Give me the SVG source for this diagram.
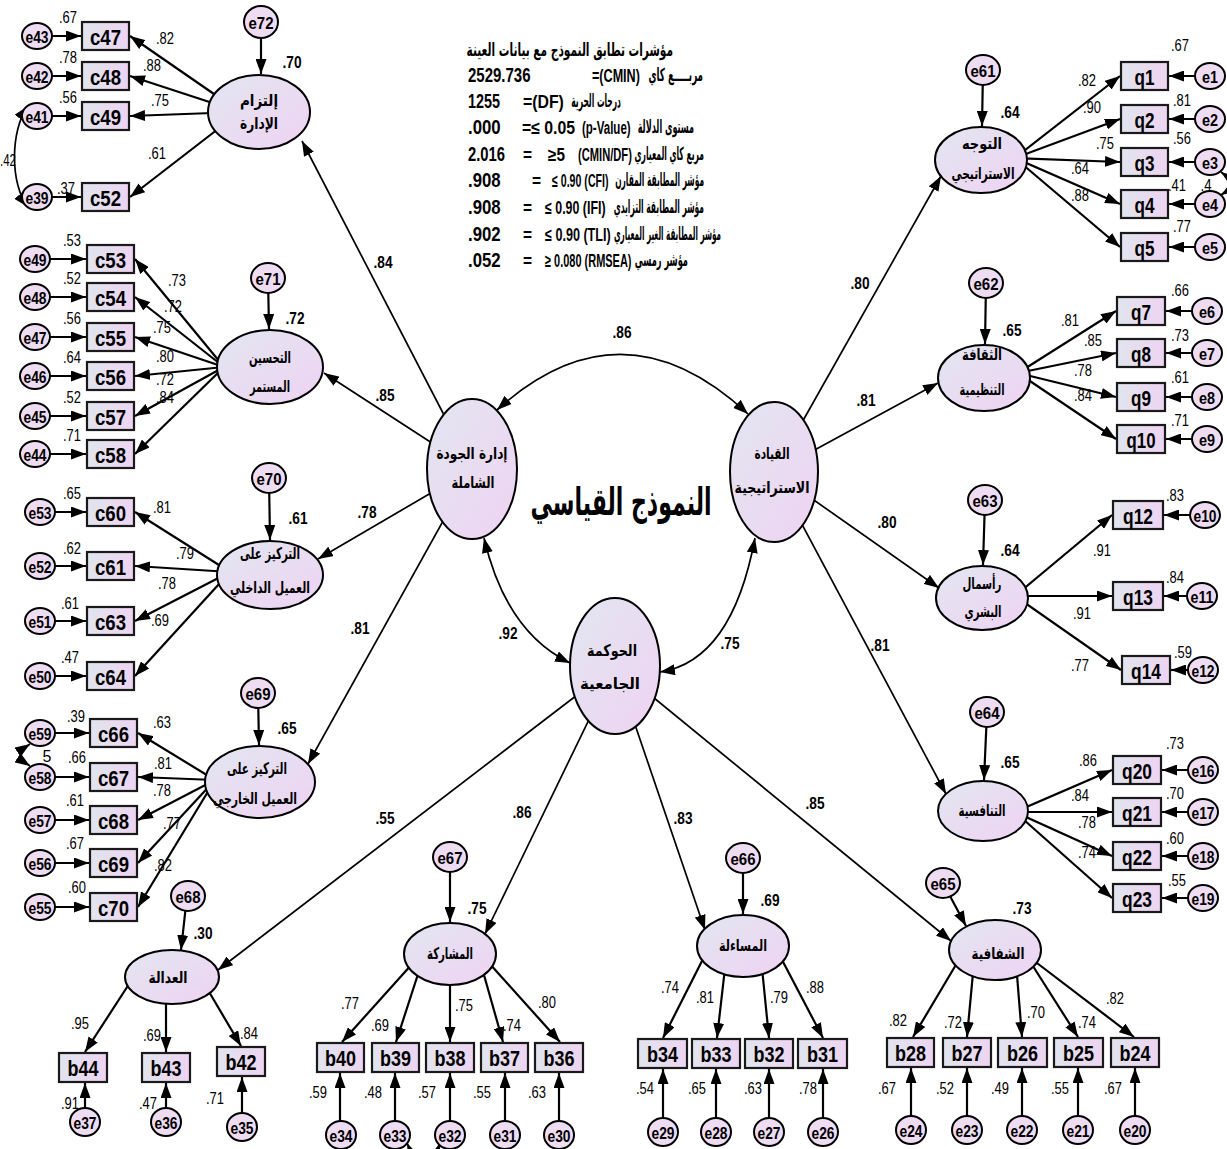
<svg xmlns="http://www.w3.org/2000/svg" width="1227" height="1149" viewBox="0 0 1227 1149">
<defs>
<linearGradient id="gl" x1="0" y1="0" x2="1" y2="1"><stop offset="0" stop-color="#e2e6f0"/><stop offset="1" stop-color="#efd3f3"/></linearGradient>
<linearGradient id="gb" x1="0" y1="0" x2="1" y2="0"><stop offset="0" stop-color="#e0e5ee"/><stop offset="1" stop-color="#eed4f1"/></linearGradient>
<marker id="ah" viewBox="0 0 15 11" refX="15" refY="5.5" markerWidth="15" markerHeight="11" orient="auto-start-reverse" markerUnits="userSpaceOnUse"><path d="M0,0 L15,5.5 L0,11 z" fill="#000"/></marker>
<style>
.lat{fill:url(#gl);stroke:#000;stroke-width:2}
.box{fill:url(#gb);stroke:#1a1a1a;stroke-width:2.2}
.err{fill:#eedcf2;stroke:#000;stroke-width:2}
.ln{fill:none;stroke:#000;stroke-width:2.2;marker-end:url(#ah)}
.sl{fill:none;stroke:#000;stroke-width:1.7;marker-end:url(#ah)}
.cv{fill:none;stroke:#000;stroke-width:1.7;marker-start:url(#ah);marker-end:url(#ah)}
.bt{font-family:"Liberation Sans",Arial,sans-serif;font-weight:bold;font-size:22px;text-anchor:middle;dominant-baseline:central}
.et{font-family:"Liberation Sans",Arial,sans-serif;font-weight:bold;font-size:16px;text-anchor:middle;dominant-baseline:central}
.n{font-family:"Liberation Sans",Arial,sans-serif;font-size:16px;text-anchor:middle}
.nb{font-family:"Liberation Sans",Arial,sans-serif;font-weight:bold;font-size:16px;text-anchor:middle}
.ar{font-family:"DejaVu Sans",sans-serif;font-weight:bold;font-size:16px;text-anchor:middle;dominant-baseline:central}
.fn{font-family:"Liberation Sans",Arial,sans-serif;font-weight:bold;font-size:20px}
.fl{font-family:"Liberation Sans",Arial,sans-serif;font-weight:bold;font-size:18px}
.fa{font-family:"DejaVu Sans",sans-serif;font-weight:bold;font-size:18px;text-anchor:end}
</style>
</defs>
<rect width="1227" height="1149" fill="#fff"/>

<g id="connectors">
<line class="ln" x1="240" y1="112" x2="130" y2="36"/>
<line class="ln" x1="240" y1="112" x2="130" y2="76"/>
<line class="ln" x1="240" y1="112" x2="130" y2="116"/>
<line class="ln" x1="240" y1="112" x2="130" y2="197"/>
<line class="ln" x1="37" y1="36" x2="81" y2="36"/>
<line class="ln" x1="37" y1="76" x2="81" y2="76"/>
<line class="ln" x1="37" y1="116" x2="81" y2="116"/>
<line class="ln" x1="37" y1="197" x2="81" y2="197"/>
<path class="cv" d="M28 106 C10 130 10 185 28 207"/>
<line class="ln" x1="224" y1="367" x2="135" y2="259"/>
<line class="ln" x1="224" y1="367" x2="135" y2="297"/>
<line class="ln" x1="224" y1="367" x2="135" y2="337"/>
<line class="ln" x1="224" y1="367" x2="135" y2="376"/>
<line class="ln" x1="224" y1="367" x2="135" y2="416"/>
<line class="ln" x1="224" y1="367" x2="135" y2="454"/>
<line class="ln" x1="35" y1="259" x2="86" y2="259"/>
<line class="ln" x1="35" y1="297" x2="86" y2="297"/>
<line class="ln" x1="35" y1="337" x2="86" y2="337"/>
<line class="ln" x1="35" y1="376" x2="86" y2="376"/>
<line class="ln" x1="35" y1="416" x2="86" y2="416"/>
<line class="ln" x1="35" y1="454" x2="86" y2="454"/>
<line class="ln" x1="230" y1="572" x2="135" y2="512"/>
<line class="ln" x1="230" y1="572" x2="135" y2="566"/>
<line class="ln" x1="230" y1="572" x2="135" y2="621"/>
<line class="ln" x1="230" y1="572" x2="135" y2="676"/>
<line class="ln" x1="40" y1="512" x2="86" y2="512"/>
<line class="ln" x1="40" y1="566" x2="86" y2="566"/>
<line class="ln" x1="40" y1="621" x2="86" y2="621"/>
<line class="ln" x1="40" y1="676" x2="86" y2="676"/>
<line class="ln" x1="215" y1="780" x2="138" y2="733"/>
<line class="ln" x1="215" y1="780" x2="138" y2="777"/>
<line class="ln" x1="215" y1="780" x2="138" y2="820"/>
<line class="ln" x1="215" y1="780" x2="138" y2="863"/>
<line class="ln" x1="215" y1="780" x2="138" y2="907"/>
<line class="ln" x1="40" y1="733" x2="89" y2="733"/>
<line class="ln" x1="40" y1="777" x2="89" y2="777"/>
<line class="ln" x1="40" y1="820" x2="89" y2="820"/>
<line class="ln" x1="40" y1="863" x2="89" y2="863"/>
<line class="ln" x1="40" y1="907" x2="89" y2="907"/>
<path class="cv" d="M30 744 C18 752 18 758 30 766"/>
<line class="ln" x1="1015" y1="158" x2="1120" y2="76"/>
<line class="ln" x1="1015" y1="158" x2="1120" y2="119"/>
<line class="ln" x1="1015" y1="158" x2="1120" y2="162"/>
<line class="ln" x1="1015" y1="158" x2="1120" y2="204"/>
<line class="ln" x1="1015" y1="158" x2="1120" y2="247"/>
<line class="ln" x1="1210" y1="76" x2="1169" y2="76"/>
<line class="ln" x1="1210" y1="119" x2="1169" y2="119"/>
<line class="ln" x1="1210" y1="162" x2="1169" y2="162"/>
<line class="ln" x1="1210" y1="204" x2="1169" y2="204"/>
<line class="ln" x1="1210" y1="247" x2="1169" y2="247"/>
<path class="cv" d="M1221 172 C1232 180 1232 188 1221 195"/>
<line class="ln" x1="1018" y1="373" x2="1116" y2="311"/>
<line class="ln" x1="1018" y1="373" x2="1116" y2="353"/>
<line class="ln" x1="1018" y1="373" x2="1116" y2="397"/>
<line class="ln" x1="1018" y1="373" x2="1116" y2="439"/>
<line class="ln" x1="1207" y1="311" x2="1166" y2="311"/>
<line class="ln" x1="1207" y1="353" x2="1166" y2="353"/>
<line class="ln" x1="1207" y1="397" x2="1166" y2="397"/>
<line class="ln" x1="1207" y1="439" x2="1166" y2="439"/>
<line class="ln" x1="1015" y1="596" x2="1112" y2="515"/>
<line class="ln" x1="1015" y1="596" x2="1112" y2="596"/>
<line class="ln" x1="1015" y1="596" x2="1121" y2="670"/>
<line class="ln" x1="1205" y1="515" x2="1164" y2="515"/>
<line class="ln" x1="1202" y1="596" x2="1164" y2="596"/>
<line class="ln" x1="1203" y1="670" x2="1171" y2="670"/>
<line class="ln" x1="1015" y1="812" x2="1112" y2="770"/>
<line class="ln" x1="1015" y1="812" x2="1112" y2="812"/>
<line class="ln" x1="1015" y1="812" x2="1112" y2="856"/>
<line class="ln" x1="1015" y1="812" x2="1112" y2="898"/>
<line class="ln" x1="1203" y1="770" x2="1162" y2="770"/>
<line class="ln" x1="1203" y1="812" x2="1162" y2="812"/>
<line class="ln" x1="1203" y1="856" x2="1162" y2="856"/>
<line class="ln" x1="1203" y1="898" x2="1162" y2="898"/>
<line class="ln" x1="131" y1="981" x2="85" y2="1052"/>
<line class="ln" x1="166" y1="995" x2="166" y2="1052"/>
<line class="ln" x1="205" y1="985" x2="241" y2="1046"/>
<line class="ln" x1="85" y1="1122" x2="85" y2="1083"/>
<line class="ln" x1="166" y1="1122" x2="166" y2="1083"/>
<line class="ln" x1="242" y1="1127" x2="242" y2="1077"/>
<line class="ln" x1="413" y1="963" x2="342" y2="1042"/>
<line class="ln" x1="420" y1="968" x2="396" y2="1042"/>
<line class="ln" x1="450" y1="975" x2="450" y2="1042"/>
<line class="ln" x1="482" y1="968" x2="503" y2="1042"/>
<line class="ln" x1="489" y1="963" x2="560" y2="1042"/>
<line class="ln" x1="340" y1="1135" x2="340" y2="1073"/>
<line class="ln" x1="395" y1="1135" x2="395" y2="1073"/>
<line class="ln" x1="450" y1="1135" x2="450" y2="1073"/>
<line class="ln" x1="505" y1="1135" x2="505" y2="1073"/>
<line class="ln" x1="559" y1="1135" x2="559" y2="1073"/>
<path class="cv" d="M407 1143 C420 1172 430 1172 440 1143"/>
<line class="ln" x1="704" y1="957" x2="663" y2="1038"/>
<line class="ln" x1="725" y1="968" x2="717" y2="1038"/>
<line class="ln" x1="762" y1="968" x2="769" y2="1038"/>
<line class="ln" x1="781" y1="958" x2="823" y2="1038"/>
<line class="ln" x1="663" y1="1132" x2="663" y2="1069"/>
<line class="ln" x1="716" y1="1132" x2="716" y2="1069"/>
<line class="ln" x1="769" y1="1132" x2="769" y2="1069"/>
<line class="ln" x1="823" y1="1132" x2="823" y2="1069"/>
<line class="ln" x1="957" y1="963" x2="913" y2="1037"/>
<line class="ln" x1="973" y1="973" x2="967" y2="1037"/>
<line class="ln" x1="1017" y1="975" x2="1022" y2="1037"/>
<line class="ln" x1="1031" y1="963" x2="1078" y2="1037"/>
<line class="ln" x1="1033" y1="960" x2="1134" y2="1037"/>
<line class="ln" x1="911" y1="1130" x2="911" y2="1068"/>
<line class="ln" x1="967" y1="1130" x2="967" y2="1068"/>
<line class="ln" x1="1022" y1="1130" x2="1022" y2="1068"/>
<line class="ln" x1="1078" y1="1130" x2="1078" y2="1068"/>
<line class="ln" x1="1135" y1="1130" x2="1135" y2="1068"/>
<line class="sl" x1="472" y1="469" x2="302" y2="141"/>
<line class="sl" x1="472" y1="469" x2="324" y2="373"/>
<line class="sl" x1="472" y1="469" x2="318" y2="559"/>
<line class="sl" x1="472" y1="469" x2="308" y2="764"/>
<line class="sl" x1="774" y1="472" x2="941" y2="176"/>
<line class="sl" x1="774" y1="472" x2="938" y2="383"/>
<line class="sl" x1="774" y1="472" x2="939" y2="588"/>
<line class="sl" x1="774" y1="472" x2="946" y2="794"/>
<line class="sl" x1="615" y1="666" x2="218" y2="970"/>
<line class="sl" x1="615" y1="666" x2="485" y2="934"/>
<line class="sl" x1="615" y1="666" x2="705" y2="930"/>
<line class="sl" x1="615" y1="666" x2="951" y2="941"/>
<path class="cv" d="M497 410 Q622 297 748 414"/>
<path class="cv" d="M484 538 Q506 632 570 663"/>
<path class="cv" d="M755 538 Q732 661 660 672"/>
<line class="ln" x1="261" y1="22" x2="261" y2="74"/>
<line class="ln" x1="268" y1="278" x2="269" y2="329"/>
<line class="ln" x1="269" y1="478" x2="270" y2="540"/>
<line class="ln" x1="258" y1="693" x2="259" y2="745"/>
<line class="ln" x1="187" y1="896" x2="181" y2="950"/>
<line class="ln" x1="450" y1="857" x2="450" y2="922"/>
<line class="ln" x1="743" y1="858" x2="743" y2="914"/>
<line class="ln" x1="943" y1="883" x2="966" y2="926"/>
<line class="ln" x1="983" y1="70" x2="982" y2="126"/>
<line class="ln" x1="986" y1="283" x2="985" y2="344"/>
<line class="ln" x1="985" y1="500" x2="983" y2="565"/>
<line class="ln" x1="987" y1="712" x2="984" y2="780"/>
</g>

<g id="connector-labels">
<text class="n" x="165" y="44" textLength="18" lengthAdjust="spacingAndGlyphs">.82</text><text class="n" x="152" y="71" textLength="18" lengthAdjust="spacingAndGlyphs">.88</text><text class="n" x="160" y="106" textLength="18" lengthAdjust="spacingAndGlyphs">.75</text><text class="n" x="157" y="159" textLength="18" lengthAdjust="spacingAndGlyphs">.61</text>
<text class="n" x="0" y="166" style="text-anchor:start" textLength="16" lengthAdjust="spacingAndGlyphs">.42</text>
<text class="n" x="177" y="286" textLength="18" lengthAdjust="spacingAndGlyphs">.73</text><text class="n" x="173" y="312" textLength="18" lengthAdjust="spacingAndGlyphs">.72</text><text class="n" x="162" y="333" textLength="18" lengthAdjust="spacingAndGlyphs">.75</text><text class="n" x="165" y="362" textLength="18" lengthAdjust="spacingAndGlyphs">.80</text><text class="n" x="165" y="385" textLength="18" lengthAdjust="spacingAndGlyphs">.72</text><text class="n" x="165" y="403" textLength="18" lengthAdjust="spacingAndGlyphs">.84</text>
<text class="n" x="162" y="513" textLength="18" lengthAdjust="spacingAndGlyphs">.81</text><text class="n" x="185" y="559" textLength="18" lengthAdjust="spacingAndGlyphs">.79</text><text class="n" x="167" y="589" textLength="18" lengthAdjust="spacingAndGlyphs">.78</text><text class="n" x="160" y="626" textLength="18" lengthAdjust="spacingAndGlyphs">.69</text>
<text class="n" x="162" y="728" textLength="18" lengthAdjust="spacingAndGlyphs">.63</text><text class="n" x="163" y="769" textLength="18" lengthAdjust="spacingAndGlyphs">.81</text><text class="n" x="162" y="796" textLength="18" lengthAdjust="spacingAndGlyphs">.78</text><text class="n" x="172" y="829" textLength="18" lengthAdjust="spacingAndGlyphs">.77</text><text class="n" x="163" y="871" textLength="18" lengthAdjust="spacingAndGlyphs">.82</text>
<text class="n" x="47" y="762">5</text>
<text class="n" x="80" y="1029" textLength="18" lengthAdjust="spacingAndGlyphs">.95</text><text class="n" x="152" y="1041" textLength="18" lengthAdjust="spacingAndGlyphs">.69</text><text class="n" x="249" y="1039" textLength="18" lengthAdjust="spacingAndGlyphs">.84</text>
<text class="n" x="350" y="1009" textLength="18" lengthAdjust="spacingAndGlyphs">.77</text><text class="n" x="380" y="1031" textLength="18" lengthAdjust="spacingAndGlyphs">.69</text><text class="n" x="464" y="1011" textLength="18" lengthAdjust="spacingAndGlyphs">.75</text><text class="n" x="512" y="1031" textLength="18" lengthAdjust="spacingAndGlyphs">.74</text><text class="n" x="547" y="1008" textLength="18" lengthAdjust="spacingAndGlyphs">.80</text>
<text class="n" x="670" y="993" textLength="18" lengthAdjust="spacingAndGlyphs">.74</text><text class="n" x="705" y="1003" textLength="18" lengthAdjust="spacingAndGlyphs">.81</text><text class="n" x="779" y="1003" textLength="18" lengthAdjust="spacingAndGlyphs">.79</text><text class="n" x="815" y="993" textLength="18" lengthAdjust="spacingAndGlyphs">.88</text>
<text class="n" x="898" y="1026" textLength="18" lengthAdjust="spacingAndGlyphs">.82</text><text class="n" x="953" y="1028" textLength="18" lengthAdjust="spacingAndGlyphs">.72</text><text class="n" x="1036" y="1018" textLength="18" lengthAdjust="spacingAndGlyphs">.70</text><text class="n" x="1087" y="1028" textLength="18" lengthAdjust="spacingAndGlyphs">.74</text><text class="n" x="1115" y="1004" textLength="18" lengthAdjust="spacingAndGlyphs">.82</text>
<text class="n" x="1087" y="86" textLength="18" lengthAdjust="spacingAndGlyphs">.82</text><text class="n" x="1092" y="113" textLength="18" lengthAdjust="spacingAndGlyphs">.90</text><text class="n" x="1105" y="149" textLength="18" lengthAdjust="spacingAndGlyphs">.75</text><text class="n" x="1080" y="174" textLength="18" lengthAdjust="spacingAndGlyphs">.64</text><text class="n" x="1080" y="201" textLength="18" lengthAdjust="spacingAndGlyphs">.88</text>
<text class="n" x="1206" y="191" textLength="11" lengthAdjust="spacingAndGlyphs">.4</text>
<text class="n" x="1070" y="326" textLength="18" lengthAdjust="spacingAndGlyphs">.81</text><text class="n" x="1093" y="346" textLength="18" lengthAdjust="spacingAndGlyphs">.85</text><text class="n" x="1083" y="376" textLength="18" lengthAdjust="spacingAndGlyphs">.78</text><text class="n" x="1083" y="401" textLength="18" lengthAdjust="spacingAndGlyphs">.84</text>
<text class="n" x="1102" y="556" textLength="18" lengthAdjust="spacingAndGlyphs">.91</text><text class="n" x="1082" y="619" textLength="18" lengthAdjust="spacingAndGlyphs">.91</text><text class="n" x="1080" y="671" textLength="18" lengthAdjust="spacingAndGlyphs">.77</text>
<text class="n" x="1088" y="766" textLength="18" lengthAdjust="spacingAndGlyphs">.86</text><text class="n" x="1080" y="801" textLength="18" lengthAdjust="spacingAndGlyphs">.84</text><text class="n" x="1087" y="828" textLength="18" lengthAdjust="spacingAndGlyphs">.78</text><text class="n" x="1087" y="858" textLength="18" lengthAdjust="spacingAndGlyphs">.74</text>
<text class="nb" x="383" y="268" textLength="19" lengthAdjust="spacingAndGlyphs">.84</text><text class="nb" x="385" y="401" textLength="19" lengthAdjust="spacingAndGlyphs">.85</text><text class="nb" x="367" y="518" textLength="19" lengthAdjust="spacingAndGlyphs">.78</text><text class="nb" x="360" y="634" textLength="19" lengthAdjust="spacingAndGlyphs">.81</text>
<text class="nb" x="622" y="338" textLength="19" lengthAdjust="spacingAndGlyphs">.86</text><text class="nb" x="508" y="639" textLength="19" lengthAdjust="spacingAndGlyphs">.92</text><text class="nb" x="730" y="649" textLength="19" lengthAdjust="spacingAndGlyphs">.75</text>
<text class="nb" x="860" y="289" textLength="19" lengthAdjust="spacingAndGlyphs">.80</text><text class="nb" x="866" y="406" textLength="19" lengthAdjust="spacingAndGlyphs">.81</text><text class="nb" x="887" y="528" textLength="19" lengthAdjust="spacingAndGlyphs">.80</text><text class="nb" x="880" y="651" textLength="19" lengthAdjust="spacingAndGlyphs">.81</text>
<text class="nb" x="385" y="824" textLength="19" lengthAdjust="spacingAndGlyphs">.55</text><text class="nb" x="522" y="818" textLength="19" lengthAdjust="spacingAndGlyphs">.86</text><text class="nb" x="683" y="824" textLength="19" lengthAdjust="spacingAndGlyphs">.83</text><text class="nb" x="815" y="809" textLength="19" lengthAdjust="spacingAndGlyphs">.85</text>
</g>

<g id="fit-indices">
<text class="fa" transform="translate(673,56) scale(0.588,1)">مؤشرات تطابق النموذج مع بيانات العينة</text>
<text class="fn" transform="translate(468,82) scale(0.75,1)">2529.736</text>
<text class="fl" transform="translate(592,82) scale(0.70,1)">=(CMIN)</text>
<text class="fa" transform="translate(703,81) scale(0.486,1)">مربـــــع كاي</text>
<text class="fn" transform="translate(468,108) scale(0.72,1)">1255</text>
<text class="fl" transform="translate(523,108) scale(0.88,1)">=(DF)</text>
<text class="fa" transform="translate(621,107) scale(0.42,1)">درجات الحرية</text>
<text class="fn" transform="translate(468,134) scale(0.84,1)">.000</text>
<text class="fl" transform="translate(522,134) scale(0.88,1)">=≤ 0.05</text>
<text class="fl" transform="translate(582,134) scale(0.64,1)">(p-Value)</text>
<text class="fa" transform="translate(694,133) scale(0.45,1)">مستوى الدلالة</text>
<text class="fn" transform="translate(468,161) scale(0.74,1)">2.016</text>
<text class="fl" transform="translate(523,161) scale(0.86,1)">=</text>
<text class="fl" transform="translate(548,161) scale(0.85,1)">≥5</text>
<text class="fl" transform="translate(578,161) scale(0.62,1)">(CMIN/DF)</text>
<text class="fa" transform="translate(704,160) scale(0.424,1)">مربع كاي المعياري</text>
<text class="fn" transform="translate(468,187) scale(0.84,1)">.908</text>
<text class="fl" transform="translate(532,187) scale(0.86,1)">=</text>
<text class="fl" transform="translate(552,187) scale(0.59,1)">≤ 0.90 (CFI)</text>
<text class="fa" transform="translate(704,186) scale(0.415,1)">مؤشر المطابقة المقارن</text>
<text class="fn" transform="translate(468,214) scale(0.84,1)">.908</text>
<text class="fl" transform="translate(523,214) scale(0.86,1)">=</text>
<text class="fl" transform="translate(545,214) scale(0.69,1)">≤ 0.90 (IFI)</text>
<text class="fa" transform="translate(704,213) scale(0.42,1)">مؤشر المطابقة التزايدي</text>
<text class="fn" transform="translate(468,241) scale(0.84,1)">.902</text>
<text class="fl" transform="translate(523,241) scale(0.86,1)">=</text>
<text class="fl" transform="translate(545,241) scale(0.70,1)">≤ 0.90 (TLI)</text>
<text class="fa" transform="translate(721,240) scale(0.40,1)">مؤشر المطابقة الغير المعياري</text>
<text class="fn" transform="translate(468,267) scale(0.84,1)">.052</text>
<text class="fl" transform="translate(523,267) scale(0.86,1)">=</text>
<text class="fl" transform="translate(545,267) scale(0.61,1)">≥ 0.080 (RMSEA)</text>
<text class="fa" transform="translate(688,266) scale(0.46,1)">مؤشر رمسي</text>
</g>

<g id="title"><text transform="translate(621,502) scale(0.58,1)" font-family="DejaVu Sans, sans-serif" font-weight="bold" font-size="38" text-anchor="middle" dominant-baseline="central">النموذج القياسي</text></g>

<g id="tqm"><ellipse class="lat" cx="472" cy="469" rx="45" ry="70"/><text class="ar" x="472" y="453" textLength="71" lengthAdjust="spacingAndGlyphs">إدارة الجودة</text><text class="ar" x="473" y="482" textLength="43" lengthAdjust="spacingAndGlyphs">الشاملة</text></g>
<g id="leadership"><ellipse class="lat" cx="774" cy="472" rx="44" ry="70"/><text class="ar" x="772" y="453" textLength="35" lengthAdjust="spacingAndGlyphs">القيادة</text><text class="ar" x="772" y="487" textLength="75" lengthAdjust="spacingAndGlyphs">الاستراتيجية</text></g>
<g id="governance"><ellipse class="lat" cx="615" cy="666" rx="45" ry="68"/><text class="ar" x="612" y="650" textLength="50" lengthAdjust="spacingAndGlyphs">الحوكمة</text><text class="ar" x="610" y="683" textLength="60" lengthAdjust="spacingAndGlyphs">الجامعية</text></g>

<g id="commitment"><ellipse class="lat" cx="259" cy="112" rx="51" ry="37"/><text class="ar" x="259" y="100" textLength="38" lengthAdjust="spacingAndGlyphs">إلتزام</text><text class="ar" x="259" y="123" textLength="38" lengthAdjust="spacingAndGlyphs">الإدارة</text><text class="nb" x="292" y="68" textLength="19" lengthAdjust="spacingAndGlyphs">.70</text></g>
<g id="improvement"><ellipse class="lat" cx="270" cy="367" rx="53" ry="37"/><text class="ar" x="270" y="357" textLength="42" lengthAdjust="spacingAndGlyphs">التحسين</text><text class="ar" x="270" y="386" textLength="40" lengthAdjust="spacingAndGlyphs">المستمر</text><text class="nb" x="295" y="324" textLength="19" lengthAdjust="spacingAndGlyphs">.72</text></g>
<g id="internal"><ellipse class="lat" cx="270" cy="575" rx="53" ry="34"/><text class="ar" x="270" y="553" textLength="60" lengthAdjust="spacingAndGlyphs">التركيز على</text><text class="ar" x="270" y="587" textLength="80" lengthAdjust="spacingAndGlyphs">العميل الداخلي</text><text class="nb" x="298" y="524" textLength="19" lengthAdjust="spacingAndGlyphs">.61</text></g>
<g id="external"><ellipse class="lat" cx="260" cy="782" rx="55" ry="36"/><text class="ar" x="257" y="768" textLength="60" lengthAdjust="spacingAndGlyphs">التركيز على</text><text class="ar" x="255" y="798" textLength="84" lengthAdjust="spacingAndGlyphs">العميل الخارجي</text><text class="nb" x="287" y="734" textLength="19" lengthAdjust="spacingAndGlyphs">.65</text></g>
<g id="justice"><ellipse class="lat" cx="172" cy="977" rx="47" ry="27"/><text class="ar" x="168" y="977" textLength="39" lengthAdjust="spacingAndGlyphs">العدالة</text><text class="nb" x="203" y="939" textLength="19" lengthAdjust="spacingAndGlyphs">.30</text></g>
<g id="participation"><ellipse class="lat" cx="450" cy="954" rx="46" ry="31"/><text class="ar" x="450" y="953" textLength="46" lengthAdjust="spacingAndGlyphs">المشاركة</text><text class="nb" x="477" y="914" textLength="19" lengthAdjust="spacingAndGlyphs">.75</text></g>
<g id="accountability"><ellipse class="lat" cx="743" cy="946" rx="46" ry="31"/><text class="ar" x="743" y="945" textLength="48" lengthAdjust="spacingAndGlyphs">المساءلة</text><text class="nb" x="770" y="906" textLength="19" lengthAdjust="spacingAndGlyphs">.69</text></g>
<g id="transparency"><ellipse class="lat" cx="995" cy="950" rx="46" ry="30"/><text class="ar" x="998" y="953" textLength="53" lengthAdjust="spacingAndGlyphs">الشفافية</text><text class="nb" x="1022" y="914" textLength="19" lengthAdjust="spacingAndGlyphs">.73</text></g>
<g id="competitiveness"><ellipse class="lat" cx="983" cy="811" rx="45" ry="30"/><text class="ar" x="982" y="810" textLength="47" lengthAdjust="spacingAndGlyphs">التنافسية</text><text class="nb" x="1010" y="768" textLength="19" lengthAdjust="spacingAndGlyphs">.65</text></g>
<g id="human-capital"><ellipse class="lat" cx="982" cy="598" rx="46" ry="32"/><text class="ar" x="982" y="583" textLength="39" lengthAdjust="spacingAndGlyphs">رأسمال</text><text class="ar" x="983" y="611" textLength="37" lengthAdjust="spacingAndGlyphs">البشري</text><text class="nb" x="1010" y="556" textLength="19" lengthAdjust="spacingAndGlyphs">.64</text></g>
<g id="culture"><ellipse class="lat" cx="984" cy="378" rx="46" ry="33"/><text class="ar" x="982" y="354" textLength="40" lengthAdjust="spacingAndGlyphs">الثقافة</text><text class="ar" x="982" y="389" textLength="45" lengthAdjust="spacingAndGlyphs">التنظيمية</text><text class="nb" x="1012" y="336" textLength="19" lengthAdjust="spacingAndGlyphs">.65</text></g>
<g id="orientation"><ellipse class="lat" cx="981" cy="160" rx="46" ry="33"/><text class="ar" x="982" y="143" textLength="40" lengthAdjust="spacingAndGlyphs">التوجه</text><text class="ar" x="983" y="173" textLength="63" lengthAdjust="spacingAndGlyphs">الاستراتيجي</text><text class="nb" x="1010" y="118" textLength="19" lengthAdjust="spacingAndGlyphs">.64</text></g>

<g id="e72"><ellipse class="err" cx="261" cy="22" rx="17" ry="16"/><text class="et" x="261" y="23" textLength="25" lengthAdjust="spacingAndGlyphs">e72</text></g>
<g id="e71"><ellipse class="err" cx="268" cy="278" rx="17" ry="15"/><text class="et" x="268" y="279" textLength="25" lengthAdjust="spacingAndGlyphs">e71</text></g>
<g id="e70"><ellipse class="err" cx="269" cy="478" rx="17" ry="15"/><text class="et" x="269" y="479" textLength="25" lengthAdjust="spacingAndGlyphs">e70</text></g>
<g id="e69"><ellipse class="err" cx="258" cy="693" rx="17" ry="15"/><text class="et" x="258" y="694" textLength="25" lengthAdjust="spacingAndGlyphs">e69</text></g>
<g id="e68"><ellipse class="err" cx="188" cy="896" rx="17" ry="15"/><text class="et" x="188" y="897" textLength="25" lengthAdjust="spacingAndGlyphs">e68</text></g>
<g id="e67"><ellipse class="err" cx="450" cy="857" rx="17" ry="15"/><text class="et" x="450" y="858" textLength="25" lengthAdjust="spacingAndGlyphs">e67</text></g>
<g id="e66"><ellipse class="err" cx="743" cy="858" rx="17" ry="15"/><text class="et" x="743" y="859" textLength="25" lengthAdjust="spacingAndGlyphs">e66</text></g>
<g id="e65"><ellipse class="err" cx="943" cy="883" rx="17" ry="15"/><text class="et" x="943" y="884" textLength="25" lengthAdjust="spacingAndGlyphs">e65</text></g>
<g id="e61"><ellipse class="err" cx="983" cy="70" rx="17" ry="15"/><text class="et" x="983" y="71" textLength="25" lengthAdjust="spacingAndGlyphs">e61</text></g>
<g id="e62"><ellipse class="err" cx="986" cy="283" rx="17" ry="15"/><text class="et" x="986" y="284" textLength="25" lengthAdjust="spacingAndGlyphs">e62</text></g>
<g id="e63"><ellipse class="err" cx="985" cy="500" rx="17" ry="15"/><text class="et" x="985" y="501" textLength="25" lengthAdjust="spacingAndGlyphs">e63</text></g>
<g id="e64"><ellipse class="err" cx="987" cy="712" rx="17" ry="15"/><text class="et" x="987" y="713" textLength="25" lengthAdjust="spacingAndGlyphs">e64</text></g>

<g id="c47"><rect class="box" x="82" y="22" width="47" height="28"/><text class="bt" x="105.5" y="37" textLength="31" lengthAdjust="spacingAndGlyphs">c47</text><text class="n" x="68" y="23" textLength="18" lengthAdjust="spacingAndGlyphs">.67</text></g>
<g id="c48"><rect class="box" x="82" y="62" width="47" height="28"/><text class="bt" x="105.5" y="77" textLength="31" lengthAdjust="spacingAndGlyphs">c48</text><text class="n" x="68" y="63" textLength="18" lengthAdjust="spacingAndGlyphs">.78</text></g>
<g id="c49"><rect class="box" x="82" y="102" width="47" height="28"/><text class="bt" x="105.5" y="117" textLength="31" lengthAdjust="spacingAndGlyphs">c49</text><text class="n" x="68" y="103" textLength="18" lengthAdjust="spacingAndGlyphs">.56</text></g>
<g id="c52"><rect class="box" x="82" y="183" width="47" height="28"/><text class="bt" x="105.5" y="198" textLength="31" lengthAdjust="spacingAndGlyphs">c52</text><text class="n" x="66" y="194" textLength="18" lengthAdjust="spacingAndGlyphs">.37</text></g>
<g id="c53"><rect class="box" x="87" y="245" width="47" height="28"/><text class="bt" x="110.5" y="260" textLength="31" lengthAdjust="spacingAndGlyphs">c53</text><text class="n" x="72" y="246" textLength="18" lengthAdjust="spacingAndGlyphs">.53</text></g>
<g id="c54"><rect class="box" x="87" y="283" width="47" height="28"/><text class="bt" x="110.5" y="298" textLength="31" lengthAdjust="spacingAndGlyphs">c54</text><text class="n" x="72" y="284" textLength="18" lengthAdjust="spacingAndGlyphs">.52</text></g>
<g id="c55"><rect class="box" x="87" y="323" width="47" height="28"/><text class="bt" x="110.5" y="338" textLength="31" lengthAdjust="spacingAndGlyphs">c55</text><text class="n" x="72" y="324" textLength="18" lengthAdjust="spacingAndGlyphs">.56</text></g>
<g id="c56"><rect class="box" x="87" y="362" width="47" height="28"/><text class="bt" x="110.5" y="377" textLength="31" lengthAdjust="spacingAndGlyphs">c56</text><text class="n" x="72" y="363" textLength="18" lengthAdjust="spacingAndGlyphs">.64</text></g>
<g id="c57"><rect class="box" x="87" y="402" width="47" height="28"/><text class="bt" x="110.5" y="417" textLength="31" lengthAdjust="spacingAndGlyphs">c57</text><text class="n" x="72" y="403" textLength="18" lengthAdjust="spacingAndGlyphs">.52</text></g>
<g id="c58"><rect class="box" x="87" y="440" width="47" height="28"/><text class="bt" x="110.5" y="455" textLength="31" lengthAdjust="spacingAndGlyphs">c58</text><text class="n" x="72" y="441" textLength="18" lengthAdjust="spacingAndGlyphs">.71</text></g>
<g id="c60"><rect class="box" x="87" y="498" width="47" height="28"/><text class="bt" x="110.5" y="513" textLength="31" lengthAdjust="spacingAndGlyphs">c60</text><text class="n" x="72" y="499" textLength="18" lengthAdjust="spacingAndGlyphs">.65</text></g>
<g id="c61"><rect class="box" x="87" y="552" width="47" height="28"/><text class="bt" x="110.5" y="567" textLength="31" lengthAdjust="spacingAndGlyphs">c61</text><text class="n" x="72" y="554" textLength="18" lengthAdjust="spacingAndGlyphs">.62</text></g>
<g id="c63"><rect class="box" x="87" y="607" width="47" height="28"/><text class="bt" x="110.5" y="622" textLength="31" lengthAdjust="spacingAndGlyphs">c63</text><text class="n" x="70" y="609" textLength="18" lengthAdjust="spacingAndGlyphs">.61</text></g>
<g id="c64"><rect class="box" x="87" y="662" width="47" height="28"/><text class="bt" x="110.5" y="677" textLength="31" lengthAdjust="spacingAndGlyphs">c64</text><text class="n" x="70" y="663" textLength="18" lengthAdjust="spacingAndGlyphs">.47</text></g>
<g id="c66"><rect class="box" x="90" y="719" width="47" height="28"/><text class="bt" x="113.5" y="734" textLength="31" lengthAdjust="spacingAndGlyphs">c66</text><text class="n" x="76" y="722" textLength="18" lengthAdjust="spacingAndGlyphs">.39</text></g>
<g id="c67"><rect class="box" x="90" y="763" width="47" height="28"/><text class="bt" x="113.5" y="778" textLength="31" lengthAdjust="spacingAndGlyphs">c67</text><text class="n" x="77" y="763" textLength="18" lengthAdjust="spacingAndGlyphs">.66</text></g>
<g id="c68"><rect class="box" x="90" y="806" width="47" height="28"/><text class="bt" x="113.5" y="821" textLength="31" lengthAdjust="spacingAndGlyphs">c68</text><text class="n" x="75" y="806" textLength="18" lengthAdjust="spacingAndGlyphs">.61</text></g>
<g id="c69"><rect class="box" x="90" y="849" width="47" height="28"/><text class="bt" x="113.5" y="864" textLength="31" lengthAdjust="spacingAndGlyphs">c69</text><text class="n" x="75" y="849" textLength="18" lengthAdjust="spacingAndGlyphs">.67</text></g>
<g id="c70"><rect class="box" x="90" y="893" width="47" height="28"/><text class="bt" x="113.5" y="908" textLength="31" lengthAdjust="spacingAndGlyphs">c70</text><text class="n" x="77" y="893" textLength="18" lengthAdjust="spacingAndGlyphs">.60</text></g>

<g id="e43"><ellipse class="err" cx="37" cy="36" rx="15" ry="13"/><text class="et" x="37" y="37" textLength="23" lengthAdjust="spacingAndGlyphs">e43</text></g>
<g id="e42"><ellipse class="err" cx="37" cy="76" rx="15" ry="13"/><text class="et" x="37" y="77" textLength="23" lengthAdjust="spacingAndGlyphs">e42</text></g>
<g id="e41"><ellipse class="err" cx="37" cy="116" rx="15" ry="13"/><text class="et" x="37" y="117" textLength="23" lengthAdjust="spacingAndGlyphs">e41</text></g>
<g id="e39"><ellipse class="err" cx="37" cy="197" rx="15" ry="13"/><text class="et" x="37" y="198" textLength="23" lengthAdjust="spacingAndGlyphs">e39</text></g>
<g id="e49"><ellipse class="err" cx="35" cy="259" rx="15" ry="13"/><text class="et" x="35" y="260" textLength="23" lengthAdjust="spacingAndGlyphs">e49</text></g>
<g id="e48"><ellipse class="err" cx="35" cy="297" rx="15" ry="13"/><text class="et" x="35" y="298" textLength="23" lengthAdjust="spacingAndGlyphs">e48</text></g>
<g id="e47"><ellipse class="err" cx="35" cy="337" rx="15" ry="13"/><text class="et" x="35" y="338" textLength="23" lengthAdjust="spacingAndGlyphs">e47</text></g>
<g id="e46"><ellipse class="err" cx="35" cy="376" rx="15" ry="13"/><text class="et" x="35" y="377" textLength="23" lengthAdjust="spacingAndGlyphs">e46</text></g>
<g id="e45"><ellipse class="err" cx="35" cy="416" rx="15" ry="13"/><text class="et" x="35" y="417" textLength="23" lengthAdjust="spacingAndGlyphs">e45</text></g>
<g id="e44"><ellipse class="err" cx="35" cy="454" rx="15" ry="13"/><text class="et" x="35" y="455" textLength="23" lengthAdjust="spacingAndGlyphs">e44</text></g>
<g id="e53"><ellipse class="err" cx="40" cy="512" rx="15" ry="13"/><text class="et" x="40" y="513" textLength="23" lengthAdjust="spacingAndGlyphs">e53</text></g>
<g id="e52"><ellipse class="err" cx="40" cy="566" rx="15" ry="13"/><text class="et" x="40" y="567" textLength="23" lengthAdjust="spacingAndGlyphs">e52</text></g>
<g id="e51"><ellipse class="err" cx="40" cy="621" rx="15" ry="13"/><text class="et" x="40" y="622" textLength="23" lengthAdjust="spacingAndGlyphs">e51</text></g>
<g id="e50"><ellipse class="err" cx="40" cy="676" rx="15" ry="13"/><text class="et" x="40" y="677" textLength="23" lengthAdjust="spacingAndGlyphs">e50</text></g>
<g id="e59"><ellipse class="err" cx="40" cy="733" rx="15" ry="13"/><text class="et" x="40" y="734" textLength="23" lengthAdjust="spacingAndGlyphs">e59</text></g>
<g id="e58"><ellipse class="err" cx="40" cy="777" rx="15" ry="13"/><text class="et" x="40" y="778" textLength="23" lengthAdjust="spacingAndGlyphs">e58</text></g>
<g id="e57"><ellipse class="err" cx="40" cy="820" rx="15" ry="13"/><text class="et" x="40" y="821" textLength="23" lengthAdjust="spacingAndGlyphs">e57</text></g>
<g id="e56"><ellipse class="err" cx="40" cy="863" rx="15" ry="13"/><text class="et" x="40" y="864" textLength="23" lengthAdjust="spacingAndGlyphs">e56</text></g>
<g id="e55"><ellipse class="err" cx="40" cy="907" rx="15" ry="13"/><text class="et" x="40" y="908" textLength="23" lengthAdjust="spacingAndGlyphs">e55</text></g>

<g id="q1"><rect class="box" x="1121" y="62" width="47" height="28"/><text class="bt" x="1144.5" y="77" textLength="20" lengthAdjust="spacingAndGlyphs">q1</text><text class="n" x="1180" y="51" textLength="18" lengthAdjust="spacingAndGlyphs">.67</text></g>
<g id="q2"><rect class="box" x="1121" y="105" width="47" height="28"/><text class="bt" x="1144.5" y="120" textLength="20" lengthAdjust="spacingAndGlyphs">q2</text><text class="n" x="1182" y="106" textLength="18" lengthAdjust="spacingAndGlyphs">.81</text></g>
<g id="q3"><rect class="box" x="1121" y="148" width="47" height="28"/><text class="bt" x="1144.5" y="163" textLength="20" lengthAdjust="spacingAndGlyphs">q3</text><text class="n" x="1182" y="144" textLength="18" lengthAdjust="spacingAndGlyphs">.56</text></g>
<g id="q4"><rect class="box" x="1121" y="190" width="47" height="28"/><text class="bt" x="1144.5" y="205" textLength="20" lengthAdjust="spacingAndGlyphs">q4</text><text class="n" x="1177" y="191" textLength="18" lengthAdjust="spacingAndGlyphs">.41</text></g>
<g id="q5"><rect class="box" x="1121" y="233" width="47" height="28"/><text class="bt" x="1144.5" y="248" textLength="20" lengthAdjust="spacingAndGlyphs">q5</text><text class="n" x="1182" y="232" textLength="18" lengthAdjust="spacingAndGlyphs">.77</text></g>
<g id="q7"><rect class="box" x="1117" y="297" width="48" height="28"/><text class="bt" x="1141" y="312" textLength="20" lengthAdjust="spacingAndGlyphs">q7</text><text class="n" x="1180" y="296" textLength="18" lengthAdjust="spacingAndGlyphs">.66</text></g>
<g id="q8"><rect class="box" x="1117" y="339" width="48" height="28"/><text class="bt" x="1141" y="354" textLength="20" lengthAdjust="spacingAndGlyphs">q8</text><text class="n" x="1180" y="341" textLength="18" lengthAdjust="spacingAndGlyphs">.73</text></g>
<g id="q9"><rect class="box" x="1117" y="383" width="48" height="28"/><text class="bt" x="1141" y="398" textLength="20" lengthAdjust="spacingAndGlyphs">q9</text><text class="n" x="1180" y="383" textLength="18" lengthAdjust="spacingAndGlyphs">.61</text></g>
<g id="q10"><rect class="box" x="1117" y="425" width="48" height="28"/><text class="bt" x="1141" y="440" textLength="29" lengthAdjust="spacingAndGlyphs">q10</text><text class="n" x="1180" y="426" textLength="18" lengthAdjust="spacingAndGlyphs">.71</text></g>
<g id="q12"><rect class="box" x="1113" y="501" width="50" height="28"/><text class="bt" x="1138" y="516" textLength="30" lengthAdjust="spacingAndGlyphs">q12</text><text class="n" x="1175" y="501" textLength="18" lengthAdjust="spacingAndGlyphs">.83</text></g>
<g id="q13"><rect class="box" x="1113" y="582" width="50" height="28"/><text class="bt" x="1138" y="597" textLength="30" lengthAdjust="spacingAndGlyphs">q13</text><text class="n" x="1175" y="583" textLength="18" lengthAdjust="spacingAndGlyphs">.84</text></g>
<g id="q14"><rect class="box" x="1122" y="656" width="48" height="28"/><text class="bt" x="1146" y="671" textLength="30" lengthAdjust="spacingAndGlyphs">q14</text></g>
<g id="q20"><rect class="box" x="1113" y="756" width="48" height="28"/><text class="bt" x="1137" y="771" textLength="30" lengthAdjust="spacingAndGlyphs">q20</text><text class="n" x="1175" y="749" textLength="18" lengthAdjust="spacingAndGlyphs">.73</text></g>
<g id="q21"><rect class="box" x="1113" y="798" width="48" height="28"/><text class="bt" x="1137" y="813" textLength="30" lengthAdjust="spacingAndGlyphs">q21</text><text class="n" x="1175" y="799" textLength="18" lengthAdjust="spacingAndGlyphs">.70</text></g>
<g id="q22"><rect class="box" x="1113" y="842" width="48" height="28"/><text class="bt" x="1137" y="857" textLength="30" lengthAdjust="spacingAndGlyphs">q22</text><text class="n" x="1175" y="844" textLength="18" lengthAdjust="spacingAndGlyphs">.60</text></g>
<g id="q23"><rect class="box" x="1113" y="884" width="48" height="28"/><text class="bt" x="1137" y="899" textLength="30" lengthAdjust="spacingAndGlyphs">q23</text><text class="n" x="1177" y="886" textLength="18" lengthAdjust="spacingAndGlyphs">.55</text></g>

<g id="e1"><ellipse class="err" cx="1210" cy="76" rx="15" ry="13"/><text class="et" x="1210" y="77" textLength="16" lengthAdjust="spacingAndGlyphs">e1</text></g>
<g id="e2"><ellipse class="err" cx="1210" cy="119" rx="15" ry="13"/><text class="et" x="1210" y="120" textLength="16" lengthAdjust="spacingAndGlyphs">e2</text></g>
<g id="e3"><ellipse class="err" cx="1210" cy="162" rx="15" ry="13"/><text class="et" x="1210" y="163" textLength="16" lengthAdjust="spacingAndGlyphs">e3</text></g>
<g id="e4"><ellipse class="err" cx="1210" cy="204" rx="15" ry="13"/><text class="et" x="1210" y="205" textLength="16" lengthAdjust="spacingAndGlyphs">e4</text></g>
<g id="e5"><ellipse class="err" cx="1210" cy="247" rx="15" ry="13"/><text class="et" x="1210" y="248" textLength="16" lengthAdjust="spacingAndGlyphs">e5</text></g>
<g id="e6"><ellipse class="err" cx="1207" cy="311" rx="15" ry="13"/><text class="et" x="1207" y="312" textLength="16" lengthAdjust="spacingAndGlyphs">e6</text></g>
<g id="e7"><ellipse class="err" cx="1207" cy="353" rx="15" ry="13"/><text class="et" x="1207" y="354" textLength="16" lengthAdjust="spacingAndGlyphs">e7</text></g>
<g id="e8"><ellipse class="err" cx="1207" cy="397" rx="15" ry="13"/><text class="et" x="1207" y="398" textLength="16" lengthAdjust="spacingAndGlyphs">e8</text></g>
<g id="e9"><ellipse class="err" cx="1207" cy="439" rx="15" ry="13"/><text class="et" x="1207" y="440" textLength="16" lengthAdjust="spacingAndGlyphs">e9</text></g>
<g id="e10"><ellipse class="err" cx="1205" cy="515" rx="15" ry="13"/><text class="et" x="1205" y="516" textLength="23" lengthAdjust="spacingAndGlyphs">e10</text></g>
<g id="e11"><ellipse class="err" cx="1202" cy="596" rx="15" ry="13"/><text class="et" x="1202" y="597" textLength="23" lengthAdjust="spacingAndGlyphs">e11</text></g>
<g id="e12"><ellipse class="err" cx="1203" cy="670" rx="15" ry="13"/><text class="et" x="1203" y="671" textLength="23" lengthAdjust="spacingAndGlyphs">e12</text><text class="n" x="1183" y="658" textLength="18" lengthAdjust="spacingAndGlyphs">.59</text></g>
<g id="e16"><ellipse class="err" cx="1203" cy="770" rx="15" ry="13"/><text class="et" x="1203" y="771" textLength="23" lengthAdjust="spacingAndGlyphs">e16</text></g>
<g id="e17"><ellipse class="err" cx="1203" cy="812" rx="15" ry="13"/><text class="et" x="1203" y="813" textLength="23" lengthAdjust="spacingAndGlyphs">e17</text></g>
<g id="e18"><ellipse class="err" cx="1203" cy="856" rx="15" ry="13"/><text class="et" x="1203" y="857" textLength="23" lengthAdjust="spacingAndGlyphs">e18</text></g>
<g id="e19"><ellipse class="err" cx="1203" cy="898" rx="15" ry="13"/><text class="et" x="1203" y="899" textLength="23" lengthAdjust="spacingAndGlyphs">e19</text></g>

<g id="b44"><rect class="box" x="59" y="1053" width="48" height="29"/><text class="bt" x="83" y="1068" textLength="31" lengthAdjust="spacingAndGlyphs">b44</text><text class="n" x="70" y="1109" textLength="18" lengthAdjust="spacingAndGlyphs">.91</text></g>
<g id="b43"><rect class="box" x="142" y="1053" width="48" height="29"/><text class="bt" x="166" y="1068" textLength="31" lengthAdjust="spacingAndGlyphs">b43</text><text class="n" x="148" y="1109" textLength="18" lengthAdjust="spacingAndGlyphs">.47</text></g>
<g id="b42"><rect class="box" x="217" y="1047" width="48" height="29"/><text class="bt" x="241" y="1062" textLength="31" lengthAdjust="spacingAndGlyphs">b42</text><text class="n" x="215" y="1104" textLength="18" lengthAdjust="spacingAndGlyphs">.71</text></g>
<g id="b40"><rect class="box" x="317" y="1043" width="47" height="29"/><text class="bt" x="340.5" y="1058" textLength="31" lengthAdjust="spacingAndGlyphs">b40</text><text class="n" x="318" y="1098" textLength="18" lengthAdjust="spacingAndGlyphs">.59</text></g>
<g id="b39"><rect class="box" x="372" y="1043" width="47" height="29"/><text class="bt" x="395.5" y="1058" textLength="31" lengthAdjust="spacingAndGlyphs">b39</text><text class="n" x="373" y="1098" textLength="18" lengthAdjust="spacingAndGlyphs">.48</text></g>
<g id="b38"><rect class="box" x="426" y="1043" width="48" height="29"/><text class="bt" x="450" y="1058" textLength="31" lengthAdjust="spacingAndGlyphs">b38</text><text class="n" x="427" y="1098" textLength="18" lengthAdjust="spacingAndGlyphs">.57</text></g>
<g id="b37"><rect class="box" x="481" y="1043" width="47" height="29"/><text class="bt" x="504.5" y="1058" textLength="31" lengthAdjust="spacingAndGlyphs">b37</text><text class="n" x="482" y="1098" textLength="18" lengthAdjust="spacingAndGlyphs">.55</text></g>
<g id="b36"><rect class="box" x="535" y="1043" width="48" height="29"/><text class="bt" x="559" y="1058" textLength="31" lengthAdjust="spacingAndGlyphs">b36</text><text class="n" x="537" y="1098" textLength="18" lengthAdjust="spacingAndGlyphs">.63</text></g>
<g id="b34"><rect class="box" x="638" y="1039" width="49" height="29"/><text class="bt" x="662.5" y="1054" textLength="31" lengthAdjust="spacingAndGlyphs">b34</text><text class="n" x="645" y="1094" textLength="18" lengthAdjust="spacingAndGlyphs">.54</text></g>
<g id="b33"><rect class="box" x="692" y="1039" width="48" height="29"/><text class="bt" x="716" y="1054" textLength="31" lengthAdjust="spacingAndGlyphs">b33</text><text class="n" x="697" y="1094" textLength="18" lengthAdjust="spacingAndGlyphs">.65</text></g>
<g id="b32"><rect class="box" x="745" y="1039" width="48" height="29"/><text class="bt" x="769" y="1054" textLength="31" lengthAdjust="spacingAndGlyphs">b32</text><text class="n" x="753" y="1094" textLength="18" lengthAdjust="spacingAndGlyphs">.63</text></g>
<g id="b31"><rect class="box" x="798" y="1039" width="49" height="29"/><text class="bt" x="822.5" y="1054" textLength="31" lengthAdjust="spacingAndGlyphs">b31</text><text class="n" x="808" y="1094" textLength="18" lengthAdjust="spacingAndGlyphs">.78</text></g>
<g id="b28"><rect class="box" x="887" y="1038" width="47" height="29"/><text class="bt" x="910.5" y="1053" textLength="31" lengthAdjust="spacingAndGlyphs">b28</text><text class="n" x="887" y="1094" textLength="18" lengthAdjust="spacingAndGlyphs">.67</text></g>
<g id="b27"><rect class="box" x="943" y="1038" width="48" height="29"/><text class="bt" x="967" y="1053" textLength="31" lengthAdjust="spacingAndGlyphs">b27</text><text class="n" x="945" y="1094" textLength="18" lengthAdjust="spacingAndGlyphs">.52</text></g>
<g id="b26"><rect class="box" x="998" y="1038" width="49" height="29"/><text class="bt" x="1022.5" y="1053" textLength="31" lengthAdjust="spacingAndGlyphs">b26</text><text class="n" x="1000" y="1094" textLength="18" lengthAdjust="spacingAndGlyphs">.49</text></g>
<g id="b25"><rect class="box" x="1054" y="1038" width="49" height="29"/><text class="bt" x="1078.5" y="1053" textLength="31" lengthAdjust="spacingAndGlyphs">b25</text><text class="n" x="1060" y="1094" textLength="18" lengthAdjust="spacingAndGlyphs">.55</text></g>
<g id="b24"><rect class="box" x="1111" y="1038" width="48" height="29"/><text class="bt" x="1135" y="1053" textLength="31" lengthAdjust="spacingAndGlyphs">b24</text><text class="n" x="1113" y="1094" textLength="18" lengthAdjust="spacingAndGlyphs">.67</text></g>

<g id="e37"><ellipse class="err" cx="85" cy="1122" rx="15" ry="14"/><text class="et" x="85" y="1123" textLength="23" lengthAdjust="spacingAndGlyphs">e37</text></g>
<g id="e36"><ellipse class="err" cx="166" cy="1122" rx="15" ry="14"/><text class="et" x="166" y="1123" textLength="23" lengthAdjust="spacingAndGlyphs">e36</text></g>
<g id="e35"><ellipse class="err" cx="242" cy="1127" rx="15" ry="14"/><text class="et" x="242" y="1128" textLength="23" lengthAdjust="spacingAndGlyphs">e35</text></g>
<g id="e34"><ellipse class="err" cx="341" cy="1135" rx="15" ry="14"/><text class="et" x="341" y="1136" textLength="23" lengthAdjust="spacingAndGlyphs">e34</text></g>
<g id="e33"><ellipse class="err" cx="395" cy="1135" rx="15" ry="14"/><text class="et" x="395" y="1136" textLength="23" lengthAdjust="spacingAndGlyphs">e33</text></g>
<g id="e32"><ellipse class="err" cx="450" cy="1135" rx="15" ry="14"/><text class="et" x="450" y="1136" textLength="23" lengthAdjust="spacingAndGlyphs">e32</text></g>
<g id="e31"><ellipse class="err" cx="505" cy="1135" rx="15" ry="14"/><text class="et" x="505" y="1136" textLength="23" lengthAdjust="spacingAndGlyphs">e31</text></g>
<g id="e30"><ellipse class="err" cx="559" cy="1135" rx="15" ry="14"/><text class="et" x="559" y="1136" textLength="23" lengthAdjust="spacingAndGlyphs">e30</text></g>
<g id="e29"><ellipse class="err" cx="663" cy="1132" rx="15" ry="14"/><text class="et" x="663" y="1133" textLength="23" lengthAdjust="spacingAndGlyphs">e29</text></g>
<g id="e28"><ellipse class="err" cx="716" cy="1132" rx="15" ry="14"/><text class="et" x="716" y="1133" textLength="23" lengthAdjust="spacingAndGlyphs">e28</text></g>
<g id="e27"><ellipse class="err" cx="769" cy="1132" rx="15" ry="14"/><text class="et" x="769" y="1133" textLength="23" lengthAdjust="spacingAndGlyphs">e27</text></g>
<g id="e26"><ellipse class="err" cx="823" cy="1132" rx="15" ry="14"/><text class="et" x="823" y="1133" textLength="23" lengthAdjust="spacingAndGlyphs">e26</text></g>
<g id="e24"><ellipse class="err" cx="911" cy="1130" rx="15" ry="14"/><text class="et" x="911" y="1131" textLength="23" lengthAdjust="spacingAndGlyphs">e24</text></g>
<g id="e23"><ellipse class="err" cx="967" cy="1130" rx="15" ry="14"/><text class="et" x="967" y="1131" textLength="23" lengthAdjust="spacingAndGlyphs">e23</text></g>
<g id="e22"><ellipse class="err" cx="1022" cy="1130" rx="15" ry="14"/><text class="et" x="1022" y="1131" textLength="23" lengthAdjust="spacingAndGlyphs">e22</text></g>
<g id="e21"><ellipse class="err" cx="1078" cy="1130" rx="15" ry="14"/><text class="et" x="1078" y="1131" textLength="23" lengthAdjust="spacingAndGlyphs">e21</text></g>
<g id="e20"><ellipse class="err" cx="1135" cy="1130" rx="15" ry="14"/><text class="et" x="1135" y="1131" textLength="23" lengthAdjust="spacingAndGlyphs">e20</text></g>
</svg>
